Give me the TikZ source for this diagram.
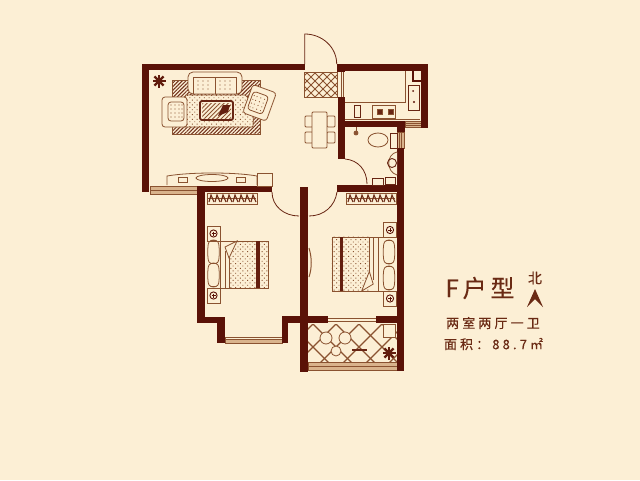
\documentclass[tikz,border=0pt]{standalone}
\usepackage{fontspec}
\usepackage{tikz}
\usetikzlibrary{patterns, patterns.meta}
\newfontfamily\cjk[LetterSpace=16, FakeBold=.3]{Noto Sans CJK SC}
\newfontfamily\cjkwide[LetterSpace=24, FakeBold=.4]{Noto Sans CJK SC}
\definecolor{paper}{HTML}{FCEFD5}
\definecolor{wallc}{HTML}{5A1207}
\definecolor{fur}{HTML}{8A5230}
\definecolor{inkc}{HTML}{6A2A14}
\definecolor{bandc}{HTML}{D9B38C}
\tikzset{
wall/.style={fill=wallc, draw=none}, % load bearing walls
line/.style={draw=fur, line width=.8pt}, % thin furniture lines
band/.style={fill=bandc, draw=fur, line width=.4pt}, % window strips
title/.style={text=inkc, inner sep=0pt},
stipple/.style={pattern={Dots[distance=3.4pt, radius=.65pt, angle=45]}, pattern color=fur},
hatch/.style={pattern={Lines[distance=2.6pt, angle=45, line width=1pt]}, pattern color=wallc!55!fur},
% furniture used more than once
plant/.pic={
    \fill[wallc!85!fur] (0,0) circle (3.5);
    \foreach \a in {0,45,...,315} {\draw[wallc!85!fur, line width=2.4pt] (0,0) -- (\a:6.5);}
},
chairseat/.pic={
    \draw[line, fill=paper, rounded corners=3pt] (-12,-15) rectangle (13,15);
    \draw[line, fill=paper, rounded corners=3pt] (-6,-10) rectangle (10,9);
    \foreach \i in {-3,1,5,8} {\foreach \j in {-7,-3,1,5} {\fill[fur] (\i,\j) circle (.6);}}
},
nightstand/.pic={
    \draw[line, fill=paper] (-6.5,-7.5) rectangle (6.5,7.5);
    \draw[wallc, line width=.9pt] (0,0) circle (3.6);
    \draw[wallc, line width=.5pt] (0,-2) -- (0,2) (-2,0) -- (2,0);
},
pillow/.pic={
    \draw[line, fill=paper, rounded corners=3pt] (-5,-11) -- (0,-12) -- (5,-11) -- (6,0) -- (5,11) -- (0,12) -- (-5,11) -- (-6,0) -- cycle;
},
wardrobe/.pic={
    \draw[line, fill=paper] (0,0) rectangle (50,11);
    \draw[line] (1,5.5) -- (49,5.5);
    \foreach \i in {4,10,...,46} {\draw[wallc!60!fur, line width=1.1pt] (\i-2,9) -- (\i,2) -- (\i+3,9);}
},
bed/.pic={
    \draw[line, fill=paper] (0,0) rectangle (48,47);
    \fill[stipple] (9,0) rectangle (48,47);
    \fill[wallc!80!fur] (36,0) rectangle (40,47);
    \draw[line] (5,10) -- (5,47) (9,16) -- (9,47);
    \draw[line, fill=paper] (5,6) -- (17,0) -- (9,17) -- cycle;
},
}

\begin{document}
\begin{tikzpicture}[x=1pt, y=-1pt]
    \useasboundingbox (0,0) rectangle (640,480);
    \fill[paper] (0,0) rectangle (640,480);

    % balcony tiles
    \begin{scope}
    \clip (308,324) rectangle (397,362);
    \foreach \i in {0,...,7} {
        \draw[line, line width=1.1pt] (290+\i*23,324) -- ++(40,40);
        \draw[line, line width=1.1pt] (290+\i*23,324) -- ++(-40,40);
    }
    \end{scope}
    % entrance mat
    \begin{scope}
    \clip (304,72) rectangle (337,97);
    \foreach \i in {0,...,7} {
        \draw[line] (290+\i*8,72) -- ++(30,30);
        \draw[line] (300+\i*8,72) -- ++(-30,30);
    }
    \end{scope}
    \draw[line] (304,72) rectangle (337,97);

    % window strips
    \foreach \a/\b in {150/186, 225/337, 405/121, 397/132, 308/362} {\coordinate (w\a) at (\a,\b);}
    \draw[band] (w150) rectangle (197,194);
    \draw[line] (150,190) -- (197,190);
    \draw[band, fill=paper] (w225) rectangle (282,343);
    \draw[band] (225,339) rectangle (282,343);
    \draw[band] (w405) rectangle (420.7,127);
    \draw[line] (405,123) -- (420.7,123) (405,125) -- (420.7,125);
    \draw[band] (w397) rectangle (404,148);
    \draw[line] (399.3,132) -- (399.3,148) (401.6,132) -- (401.6,148);
    \draw[band] (w308) rectangle (397,370);
    \draw[line] (308,366) -- (397,366);
    \draw[line] (341,72) -- (341,97) (343,72) -- (343,97);
    \draw[line] (328,318) -- (376,318) (328,321) -- (376,321);

    % walls
    \foreach \xa/\ya/\xb/\yb in {
        142/64/149/192, 142/64/304.7/70, 337/64/428/71, 420.7/64/428/127.7,
        338/97/345/159, 338/121/405/127, 397/121/405/132, 397/148/404/371,
        337/185/404/192, 300/187/308/372, 197/186/272/192, 197/186/205/323,
        197/317/225/323, 217/317/225/343, 282/316/288/343, 282/316/328/323,
        376/316/397/323, 337/64/345/72} {
        \fill[wall] (\xa,\ya) rectangle (\xb,\yb);
    }

    % doors
    \draw[wallc!70!fur, line width=.8pt] (304.7,64) -- (304.7,34) .. controls (322,34) and (336.7,47) .. (336.7,64);
    \draw[line, draw=wallc!70!fur] (272,192) .. controls (272,206) and (284,216) .. (299,216);
    \draw[line, draw=wallc!70!fur] (337,192) .. controls (335,206) and (324,216) .. (309,216);
    \draw[line, draw=wallc!70!fur] (345,159) .. controls (358,160) and (367,170) .. (367,184);

    % living room
    \fill[hatch] (172,80) rectangle (260,134);
    \draw[line] (172,80) rectangle (260,134);
    \draw[line, fill=paper] (186,95) -- (245,95) .. controls (252,100) and (254,112) .. (253,127) -- (183,127) .. controls (182,112) and (182,102) .. cycle;
    \fill[stipple] (186,95) -- (245,95) .. controls (252,100) and (254,112) .. (253,127) -- (183,127) .. controls (182,112) and (182,102) .. cycle;
    \draw[wallc!70!fur, fill=paper, line width=1.8pt, rounded corners=2pt] (200,101) rectangle (233,120);
    \fill[pattern={Lines[distance=3pt, angle=45, line width=.8pt]}, pattern color=fur] (202,103) rectangle (231,118);
    \fill[wallc!80!fur] (223,105) -- (230,105) -- (228,112) -- (218,116) -- cycle;
    \draw[line, fill=paper, rounded corners=5pt] (188,94) -- (188,72) -- (242,72) -- (242,94) -- cycle;
    \draw[line] (193,94) -- (193,77) -- (236,77) -- (236,94) (215,77) -- (215,94);
    \foreach \i in {198,203,208,220,225,230} {\foreach \j in {81,85,89} {\fill[fur] (\i,\j) circle (.6);}}
    \pic at (174,112) {chairseat};
    \pic[rotate=160] at (260,103) {chairseat};
    \pic at (159,81) {plant};

    % tv cabinet
    \draw[line, fill=paper] (167,185) -- (167,176) .. controls (190,172) and (235,172) .. (257,176) -- (257,185);
    \draw[line] (212,178) circle [x radius=16, y radius=3.5];
    \draw[line] (178,177) rectangle (187,182) (236,177) rectangle (245,182);
    \draw[line, line width=1pt, fill=paper] (257,173) rectangle (272,186);

    % dining table
    \foreach \i/\j in {305/116, 305/132, 327/116, 327/132} {\draw[line, fill=paper, rounded corners=1pt] (\i,\j) rectangle ++(8,11);}
    \draw[line, fill=paper, rounded corners=1pt] (312,112) rectangle (327,148);

    % kitchen
    \draw[line] (345,102) -- (405,102) -- (405,71);
    \draw[line] (345,119.5) -- (420,119.5);
    \draw[wallc!70!fur, line width=1pt, fill=paper] (354,105) rectangle (360,117);
    \draw[line, line width=1pt] (372,105) rectangle (395,118);
    \foreach \i in {377,388} {\draw[fill=wallc!70!fur, draw=fur] (\i,109) rectangle ++(5,5);}
    \draw[wallc!70!fur, line width=1pt, fill=paper] (408,85) rectangle (419,110);
    \fill[wallc] (413,91) circle (1) (414,102) circle (1.2);
    \draw[wallc, line width=1.4pt] (413,71) -- (413,81) -- (421,81);

    % bathroom
    \draw[line] (356,127) -- (356,131);
    \draw[line, fill=fur] (356,133) circle (2);
    \draw[line, fill=paper] (378,140) circle [x radius=10, y radius=7];
    \draw[wallc!70!fur, line width=1pt, fill=paper] (390,133) rectangle (397,148);
    \draw[line, fill=paper] (397,152) .. controls (386,154) and (386,172) .. (397,175);
    \draw[wallc!70!fur, line width=.9pt] (392,163) circle (4.5);
    \draw[wallc!70!fur, line width=1pt] (372,178) rectangle (383,185) (385,177) rectangle (395,184);

    % left bedroom
    \pic at (207,193) {wardrobe};
    \pic at (213.5,233.5) {nightstand};
    \pic at (213.5,295.5) {nightstand};
    \pic at (213.5,252) {pillow};
    \pic at (213.5,275) {pillow};
    \draw[line] (220,241) -- (207,241) (220,288) -- (207,288);
    \pic at (220,241) {bed};

    % right bedroom
    \pic at (346,193) {wardrobe};
    \pic at (390,230) {nightstand};
    \pic at (390,298.5) {nightstand};
    \pic at (389,252) {pillow};
    \pic at (389,278) {pillow};
    \draw[line] (378,237) -- (397,237) (378,291) -- (397,291);
    \pic[xscale=-.96, yscale=-1.15] at (378,291) {bed};
    \draw[line, line width=1pt] (309,248) .. controls (312,258) and (312,268) .. (309,277);

    % balcony things
    \foreach \i/\j/\r in {326/338/6, 345/338/6, 336/351/5} {\draw[line, fill=paper] (\i,\j) circle (\r);}
    \draw[wallc!70!fur, line width=1.1pt] (352,350) -- (367,350);
    \draw[line, fill=paper] (383,324) rectangle (395,337);
    \pic at (389,353) {plant};

    % title
    \node[title] (type) at (480,288) {\cjk\fontsize{24}{24}\selectfont F户型};
    \node[title] (north) at (535,278) {\cjk\fontsize{14}{14}\selectfont 北};
    \coordinate (tip) at (535,289);
    \fill[inkc] (tip) -- (543,307) -- (535,299) -- (527,307) -- cycle;
    \node[title] (rooms) at (493,323) {\cjkwide\fontsize{13}{13}\selectfont 两室两厅一卫};
    \node[title] (area) at (493.5,344) {\cjkwide\fontsize{13}{13}\selectfont 面积：88.7㎡};
\end{tikzpicture}
\end{document}
